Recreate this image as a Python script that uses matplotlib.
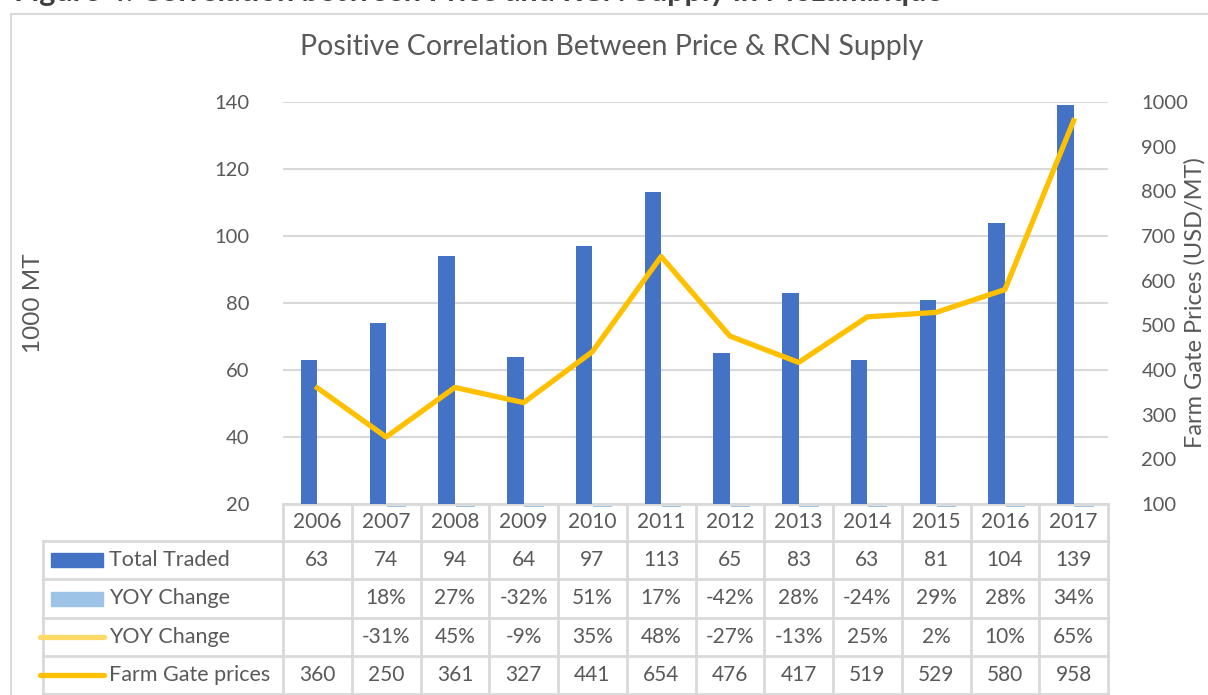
import matplotlib
matplotlib.use('Agg')
import matplotlib.pyplot as plt
from matplotlib.patches import Rectangle
from matplotlib.lines import Line2D
import numpy as np

years = ['2006', '2007', '2008', '2009', '2010', '2011',
         '2012', '2013', '2014', '2015', '2016', '2017']
total_traded = [63, 74, 94, 64, 97, 113, 65, 83, 63, 81, 104, 139]
yoy_traded = [None, 0.18, 0.27, -0.32, 0.51, 0.17, -0.42, 0.28, -0.24, 0.29, 0.28, 0.34]
yoy_price = [None, -0.31, 0.45, -0.09, 0.35, 0.48, -0.27, -0.13, 0.25, 0.02, 0.10, 0.65]
farm_gate = [360, 250, 361, 327, 441, 654, 476, 417, 519, 529, 580, 958]

BLUE = '#4472C4'
LIGHT_BLUE = '#9DC3E6'
GOLD = '#FFC000'
LIGHT_GOLD = '#FFD966'
TXT = '#595959'
GRID = '#D9D9D9'

plt.rcParams['font.family'] = ['Lato', 'DejaVu Sans']

W, H = 1208, 695
fig = plt.figure(figsize=(W / 100, H / 100), dpi=100)


def fx(px):
    return px / W


def fy(py):
    return 1 - py / H


# outer chart border (only left and top edges are in view)
fig.add_artist(Line2D([fx(11), fx(11)], [0, fy(14)], color=GRID, lw=1.5))
fig.add_artist(Line2D([fx(11), 1], [fy(14), fy(14)], color=GRID, lw=1.5))

# caption above the chart, mostly cut off by the image top
fig.text(fx(943), fy(0.5), 'Figure 4: Correlation between Price and RCN Supply in Mozambique',
         fontsize=22, fontweight='bold', color='#404040', va='baseline', ha='right')

fig.text(fx(612), fy(47), 'Positive Correlation Between Price & RCN Supply',
         fontsize=20.5, color=TXT, ha='center', va='center')

ax_left, ax_right = 283, 1108
ax_top, ax_bot = 102, 504
ax = fig.add_axes([fx(ax_left), fy(ax_bot), (ax_right - ax_left) / W, (ax_bot - ax_top) / H])
x = np.arange(len(years))
bw = 0.24

ax.bar(x - bw / 2, total_traded, width=bw, color=BLUE, zorder=3)
ax.set_ylim(20, 140)
ax.set_yticks(range(20, 141, 20))
ax.set_xlim(-0.5, len(years) - 0.5)
ax.set_xticks([])
ax.grid(axis='y', color=GRID, lw=1.5, zorder=0)
ax.set_axisbelow(True)
for s in ax.spines.values():
    s.set_visible(False)
ax.tick_params(axis='y', length=0, labelsize=14.5, labelcolor=TXT, pad=24)

# YOY change bars sit far below the 20 axis floor: only a sliver shows under the axis
for xi, v in zip(x, yoy_traded):
    if v is not None:
        ax.bar(xi + bw / 2 + 0.03, -0.45, bottom=19.55, width=bw + 0.04, color=LIGHT_BLUE,
               clip_on=False, zorder=5)

ax2 = ax.twinx()
ax2.plot(x, farm_gate, color=GOLD, lw=3.8, solid_joinstyle='round', zorder=4)
ax2.set_ylim(100, 1000)
ax2.set_yticks(range(100, 1001, 100))
for s in ax2.spines.values():
    s.set_visible(False)
ax2.tick_params(axis='y', length=0, labelsize=14.5, labelcolor=TXT, pad=24)
ax2.set_xlim(-0.5, len(years) - 0.5)

fig.text(fx(33), fy(303), '1000 MT', rotation=90, fontsize=17.5, color=TXT,
         ha='center', va='center')
fig.text(fx(1195), fy(303), 'Farm Gate Prices (USD/MT)', rotation=90, fontsize=17,
         color=TXT, ha='center', va='center')

# data table under the plot, sharing the category x scale
tb_top, tb_bot = 504, 694
tax = fig.add_axes([fx(ax_left), fy(tb_bot), (ax_right - ax_left) / W, (tb_bot - tb_top) / H])
tax.set_xlim(-0.5, len(years) - 0.5)
tax.set_ylim(tb_bot, tb_top)
tax.axis('off')
tax.set_zorder(ax2.get_zorder() - 1)

col_w = (ax_right - ax_left) / len(years)


def dx(px):
    return -0.5 + (px - ax_left) / col_w


row_lines = [504, 541, 579, 618, 656, 694]
left_edge = dx(43)
line_kw = dict(color=GRID, lw=2, clip_on=False, zorder=1)
tax.plot([-0.5, len(years) - 0.5], [row_lines[0]] * 2, **line_kw)
for ry in row_lines[1:]:
    tax.plot([left_edge, len(years) - 0.5], [ry, ry], **line_kw)
for k in range(len(years) + 1):
    tax.plot([k - 0.5, k - 0.5], [row_lines[0], row_lines[-1]], **line_kw)
tax.plot([left_edge, left_edge], [row_lines[1], row_lines[-1]], **line_kw)

cell_kw = dict(fontsize=15, color=TXT, ha='center', va='center')
mid = [(row_lines[i] + row_lines[i + 1]) / 2 for i in range(5)]
for xi, yr in zip(x, years):
    tax.text(xi, mid[0], yr, **cell_kw)


def pct(v):
    return '' if v is None else f'{round(v * 100)}%'


rows = [
    ('Total Traded', [str(v) for v in total_traded], 'bar', BLUE),
    ('YOY Change', [pct(v) for v in yoy_traded], 'bar', LIGHT_BLUE),
    ('YOY Change', [pct(v) for v in yoy_price], 'line', LIGHT_GOLD),
    ('Farm Gate prices', [str(v) for v in farm_gate], 'line', GOLD),
]
for r, (label, vals, kind, col) in enumerate(rows):
    ym = mid[r + 1]
    if kind == 'bar':
        tax.add_patch(Rectangle((dx(51), ym - 7), dx(103) - dx(51), 14, color=col,
                                clip_on=False))
    else:
        tax.plot([dx(40), dx(104)], [ym, ym], color=col, lw=3.8, solid_capstyle='round',
                 clip_on=False)
    tax.text(dx(109), ym, label, fontsize=15.5, color=TXT, ha='left', va='center')
    for xi, s in zip(x, vals):
        tax.text(xi, ym, s, **cell_kw)

fig.savefig('out.png', dpi=100)
